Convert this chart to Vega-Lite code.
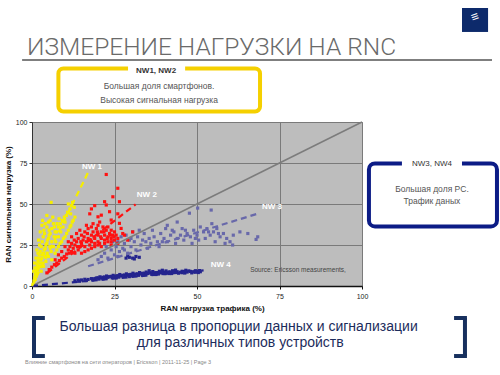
{
  "$schema": "https://vega.github.io/schema/vega-lite/v6.json",
  "width": 330,
  "height": 164,
  "autosize": {"type": "none"},
  "padding": {"left": 32, "top": 122, "right": 138, "bottom": 89},
  "background": "white",
  "config": {
    "view": {"fill": "#bdbdbd", "stroke": "#8a8a8a", "strokeWidth": 1},
    "font": "Liberation Sans"
  },
  "resolve": {"axis": {"x": "independent", "y": "independent"}},
  "data": {"values": [{}]},
  "datasets": {
    "pts": [
      {"g":"NW4","x":13,"y":3.2},{"g":"NW4","x":14,"y":3.6},{"g":"NW4","x":14.4,"y":2.9},{"g":"NW4","x":15,"y":3.7},{"g":"NW4","x":16,"y":4.1},{"g":"NW4","x":16.4,"y":3.3},{"g":"NW4","x":17,"y":4.0},{"g":"NW4","x":18,"y":4.5},{"g":"NW4","x":18.4,"y":3.7},{"g":"NW4","x":19,"y":4.5},
      {"g":"NW4","x":20,"y":5.0},{"g":"NW4","x":20.3,"y":4.2},{"g":"NW4","x":20.6,"y":5.6},{"g":"NW4","x":21,"y":4.9},{"g":"NW4","x":22,"y":5.5},{"g":"NW4","x":22.3,"y":4.6},{"g":"NW4","x":22.6,"y":6.1},{"g":"NW4","x":23,"y":5.3},{"g":"NW4","x":24,"y":5.9},{"g":"NW4","x":24.3,"y":5.0},
      {"g":"NW4","x":24.6,"y":6.5},{"g":"NW4","x":25,"y":5.7},{"g":"NW4","x":26,"y":6.3},{"g":"NW4","x":26.3,"y":5.4},{"g":"NW4","x":26.6,"y":7.0},{"g":"NW4","x":27,"y":6.1},{"g":"NW4","x":28,"y":6.7},{"g":"NW4","x":28.3,"y":5.8},{"g":"NW4","x":28.6,"y":7.4},{"g":"NW4","x":29,"y":6.5},
      {"g":"NW4","x":30,"y":7.1},{"g":"NW4","x":30.3,"y":6.2},{"g":"NW4","x":30.6,"y":7.8},{"g":"NW4","x":31,"y":6.9},{"g":"NW4","x":32,"y":7.4},{"g":"NW4","x":32.3,"y":6.5},{"g":"NW4","x":32.6,"y":8.2},{"g":"NW4","x":33,"y":7.3},{"g":"NW4","x":34,"y":7.8},{"g":"NW4","x":34.3,"y":6.9},
      {"g":"NW4","x":34.6,"y":8.5},{"g":"NW4","x":35,"y":7.6},{"g":"NW4","x":36,"y":8.0},{"g":"NW4","x":36.3,"y":7.1},{"g":"NW4","x":36.6,"y":8.8},{"g":"NW4","x":37,"y":7.8},{"g":"NW4","x":38,"y":8.2},{"g":"NW4","x":38.3,"y":7.3},{"g":"NW4","x":38.6,"y":9.0},{"g":"NW4","x":39,"y":8.0},
      {"g":"NW4","x":40,"y":8.4},{"g":"NW4","x":40.3,"y":7.5},{"g":"NW4","x":40.6,"y":9.2},{"g":"NW4","x":41,"y":8.1},{"g":"NW4","x":42,"y":8.5},{"g":"NW4","x":42.3,"y":7.6},{"g":"NW4","x":42.6,"y":9.3},{"g":"NW4","x":43,"y":8.3},{"g":"NW4","x":44,"y":8.7},{"g":"NW4","x":44.4,"y":7.8},
      {"g":"NW4","x":45,"y":8.4},{"g":"NW4","x":46,"y":8.8},{"g":"NW4","x":46.3,"y":7.9},{"g":"NW4","x":46.6,"y":9.6},{"g":"NW4","x":47,"y":8.5},{"g":"NW4","x":48,"y":8.9},{"g":"NW4","x":48.4,"y":8.0},{"g":"NW4","x":49,"y":8.6},{"g":"NW4","x":50,"y":9.0},{"g":"NW4","x":50.4,"y":8.2},
      {"g":"NW4","x":51,"y":8.7},{"g":"NW4","x":28.5,"y":17},{"g":"NW4","x":29.5,"y":17.5},{"g":"NW4","x":30.5,"y":17},{"g":"NW4","x":31.5,"y":18},{"g":"NW4","x":32.5,"y":17.5},{"g":"NW4","x":29,"y":18.5},{"g":"NW4","x":31,"y":16.5},
      {"g":"NW4","x":19.5,"y":4.9},{"g":"NW4","x":21.5,"y":5.3},{"g":"NW4","x":23.5,"y":5.7},{"g":"NW4","x":25.5,"y":6.1},{"g":"NW4","x":27.5,"y":6.5},{"g":"NW4","x":29.5,"y":6.9},{"g":"NW4","x":31.5,"y":7.3},{"g":"NW4","x":33.5,"y":7.7},{"g":"NW4","x":35.5,"y":8.0},{"g":"NW4","x":37.5,"y":8.2},
      {"g":"NW4","x":39.5,"y":8.4},{"g":"NW4","x":41.5,"y":8.6},{"g":"NW4","x":43.5,"y":8.8},{"g":"NW4","x":45.5,"y":9.0},{"g":"NW4","x":47.5,"y":9.2},{"g":"NW4","x":49.5,"y":9.3},{"g":"NW4","x":21.5,"y":4.3},{"g":"NW4","x":25.5,"y":5.0},{"g":"NW4","x":29.5,"y":5.7},{"g":"NW4","x":33.5,"y":6.5},
      {"g":"NW4","x":37.5,"y":7.0},{"g":"NW4","x":41.5,"y":7.6},{"g":"NW4","x":45.5,"y":8.1},{"g":"NW4","x":49.5,"y":8.4},{"g":"NW4","x":50.8,"y":9.4},{"g":"NW4","x":35.5,"y":9.3},{"g":"NW4","x":39.5,"y":9.6},{"g":"NW4","x":43.5,"y":9.7},
      {"g":"NW3","x":20,"y":16},{"g":"NW3","x":21,"y":18},{"g":"NW3","x":22,"y":20},{"g":"NW3","x":23,"y":17},{"g":"NW3","x":24,"y":22},{"g":"NW3","x":25,"y":19},{"g":"NW3","x":25.5,"y":24},{"g":"NW3","x":26,"y":27},{"g":"NW3","x":26.5,"y":21},{"g":"NW3","x":27,"y":30},
      {"g":"NW3","x":27.5,"y":23},{"g":"NW3","x":28,"y":26},{"g":"NW3","x":28.5,"y":31},{"g":"NW3","x":29,"y":20},{"g":"NW3","x":29.5,"y":28},{"g":"NW3","x":30,"y":24},{"g":"NW3","x":30.5,"y":33},{"g":"NW3","x":31,"y":27},{"g":"NW3","x":31.5,"y":22},{"g":"NW3","x":32,"y":30},
      {"g":"NW3","x":33,"y":25},{"g":"NW3","x":33.5,"y":28},{"g":"NW3","x":34,"y":32},{"g":"NW3","x":35,"y":23},{"g":"NW3","x":35.5,"y":29},{"g":"NW3","x":36,"y":26},{"g":"NW3","x":36.5,"y":34},{"g":"NW3","x":37,"y":30},{"g":"NW3","x":38,"y":27},{"g":"NW3","x":38.5,"y":24},
      {"g":"NW3","x":39,"y":32},{"g":"NW3","x":40,"y":29},{"g":"NW3","x":40.5,"y":35},{"g":"NW3","x":41,"y":27},{"g":"NW3","x":42,"y":31},{"g":"NW3","x":43,"y":33},{"g":"NW3","x":43.5,"y":26},{"g":"NW3","x":44,"y":29},{"g":"NW3","x":45,"y":31},{"g":"NW3","x":45.5,"y":35},
      {"g":"NW3","x":46,"y":28},{"g":"NW3","x":47,"y":32},{"g":"NW3","x":48,"y":30},{"g":"NW3","x":48.5,"y":26},{"g":"NW3","x":49,"y":34},{"g":"NW3","x":50,"y":31},{"g":"NW3","x":50.5,"y":28},{"g":"NW3","x":51,"y":36},{"g":"NW3","x":52,"y":33},{"g":"NW3","x":52.5,"y":29},
      {"g":"NW3","x":53,"y":35},{"g":"NW3","x":54,"y":31},{"g":"NW3","x":54.5,"y":38},{"g":"NW3","x":55,"y":33},{"g":"NW3","x":55.5,"y":27},{"g":"NW3","x":56,"y":35},{"g":"NW3","x":57,"y":30},{"g":"NW3","x":58,"y":32},{"g":"NW3","x":58.5,"y":26},{"g":"NW3","x":59,"y":29},
      {"g":"NW3","x":60,"y":27},{"g":"NW3","x":60.8,"y":25},{"g":"NW3","x":61,"y":31},{"g":"NW3","x":63,"y":33},{"g":"NW3","x":65.4,"y":32},{"g":"NW3","x":67.9,"y":28.4},{"g":"NW3","x":68.4,"y":30},{"g":"NW3","x":50.2,"y":47.5},{"g":"NW3","x":54.3,"y":46.3},{"g":"NW3","x":47.7,"y":44.4},
      {"g":"NW3","x":44,"y":39},{"g":"NW3","x":41,"y":37},{"g":"NW3","x":22.5,"y":24},{"g":"NW3","x":24.5,"y":27},{"g":"NW3","x":26,"y":18},{"g":"NW3","x":28,"y":22},{"g":"NW3","x":30,"y":29},{"g":"NW3","x":32.5,"y":34},{"g":"NW3","x":34.5,"y":27},{"g":"NW3","x":39.5,"y":27},
      {"g":"NW3","x":42.5,"y":34},{"g":"NW3","x":46.5,"y":34},{"g":"NW3","x":49.5,"y":29},{"g":"NW3","x":53.5,"y":33},{"g":"NW3","x":56.5,"y":32},
      {"g":"NW2","x":4.5,"y":8},{"g":"NW2","x":5.2,"y":10},{"g":"NW2","x":6,"y":11.5},{"g":"NW2","x":6.8,"y":13},{"g":"NW2","x":7.5,"y":14},{"g":"NW2","x":8.3,"y":15.5},{"g":"NW2","x":9,"y":17},{"g":"NW2","x":9.8,"y":18},{"g":"NW2","x":10.5,"y":19.5},{"g":"NW2","x":11.3,"y":20},
      {"g":"NW2","x":12,"y":21},{"g":"NW2","x":11,"y":22},{"g":"NW2","x":11.5,"y":24},{"g":"NW2","x":12,"y":26},{"g":"NW2","x":12.5,"y":23},{"g":"NW2","x":13,"y":25},{"g":"NW2","x":13.5,"y":27},{"g":"NW2","x":14,"y":22},{"g":"NW2","x":14,"y":29},{"g":"NW2","x":14.5,"y":24},
      {"g":"NW2","x":15,"y":26},{"g":"NW2","x":15,"y":31},{"g":"NW2","x":15.5,"y":28},{"g":"NW2","x":16,"y":24},{"g":"NW2","x":16,"y":33},{"g":"NW2","x":16.5,"y":27},{"g":"NW2","x":17,"y":29},{"g":"NW2","x":17,"y":35},{"g":"NW2","x":17.5,"y":25},{"g":"NW2","x":18,"y":31},
      {"g":"NW2","x":18,"y":27},{"g":"NW2","x":18.5,"y":33},{"g":"NW2","x":19,"y":29},{"g":"NW2","x":19,"y":24},{"g":"NW2","x":19.5,"y":35},{"g":"NW2","x":20,"y":27},{"g":"NW2","x":20,"y":31},{"g":"NW2","x":20.5,"y":26},{"g":"NW2","x":21,"y":33},{"g":"NW2","x":21,"y":29},
      {"g":"NW2","x":21.5,"y":36},{"g":"NW2","x":22,"y":28},{"g":"NW2","x":22,"y":31},{"g":"NW2","x":22.5,"y":34},{"g":"NW2","x":23,"y":27},{"g":"NW2","x":23,"y":30},{"g":"NW2","x":23.5,"y":32},{"g":"NW2","x":24,"y":29},{"g":"NW2","x":24,"y":34},{"g":"NW2","x":24.5,"y":31},
      {"g":"NW2","x":25,"y":28},{"g":"NW2","x":25,"y":33},{"g":"NW2","x":13,"y":20},{"g":"NW2","x":15,"y":20},{"g":"NW2","x":17,"y":22},{"g":"NW2","x":19,"y":26},{"g":"NW2","x":21,"y":24},{"g":"NW2","x":12,"y":30},{"g":"NW2","x":13.5,"y":32},{"g":"NW2","x":16.5,"y":37},
      {"g":"NW2","x":18.5,"y":38},{"g":"NW2","x":20.5,"y":39},{"g":"NW2","x":22.5,"y":68},{"g":"NW2","x":26,"y":59.6},{"g":"NW2","x":24.5,"y":54.4},{"g":"NW2","x":26.5,"y":51.4},{"g":"NW2","x":22,"y":51.4},{"g":"NW2","x":22.5,"y":49.4},{"g":"NW2","x":21,"y":43.2},{"g":"NW2","x":20,"y":42.2},
      {"g":"NW2","x":23.5,"y":45.3},{"g":"NW2","x":26.5,"y":38.2},{"g":"NW2","x":27,"y":35.1},{"g":"NW2","x":24,"y":40.2},{"g":"NW2","x":18,"y":47},{"g":"NW2","x":17.5,"y":44},{"g":"NW2","x":19,"y":49},{"g":"NW2","x":26,"y":44},{"g":"NW2","x":29,"y":28},{"g":"NW2","x":28,"y":31},
      {"g":"NW2","x":30.5,"y":33},{"g":"NW2","x":12.8,"y":28},{"g":"NW2","x":13.8,"y":24},{"g":"NW2","x":14.8,"y":27},{"g":"NW2","x":15.8,"y":30},{"g":"NW2","x":16.8,"y":32},{"g":"NW2","x":17.8,"y":28},{"g":"NW2","x":18.8,"y":30},{"g":"NW2","x":19.8,"y":33},{"g":"NW2","x":20.8,"y":30},
      {"g":"NW2","x":21.8,"y":33},{"g":"NW2","x":22.8,"y":29},{"g":"NW2","x":23.8,"y":31},{"g":"NW2","x":24.8,"y":30},{"g":"NW2","x":16,"y":21},{"g":"NW2","x":18,"y":23},{"g":"NW2","x":20,"y":25},{"g":"NW2","x":22,"y":26},{"g":"NW2","x":24,"y":27},{"g":"NW2","x":14.5,"y":34},
      {"g":"NW2","x":18,"y":36},{"g":"NW2","x":20,"y":37},{"g":"NW2","x":23,"y":36},{"g":"NW2","x":10,"y":24},{"g":"NW2","x":9,"y":21},{"g":"NW2","x":8,"y":19},{"g":"NW2","x":7,"y":16},{"g":"NW2","x":11,"y":27},{"g":"NW2","x":25.5,"y":31},{"g":"NW2","x":26,"y":29},
      {"g":"NW2","x":27.5,"y":32},{"g":"NW2","x":24,"y":25},{"g":"NW2","x":26,"y":26},
      {"g":"NW1","x":0.3,"y":1},{"g":"NW1","x":0.6,"y":3},{"g":"NW1","x":0.8,"y":5},{"g":"NW1","x":1.0,"y":7},{"g":"NW1","x":1.2,"y":9},{"g":"NW1","x":1.4,"y":11},{"g":"NW1","x":1.6,"y":13},{"g":"NW1","x":1.8,"y":15},{"g":"NW1","x":2.0,"y":17},{"g":"NW1","x":2.2,"y":19},
      {"g":"NW1","x":2.5,"y":21},{"g":"NW1","x":2.8,"y":24},{"g":"NW1","x":3.1,"y":27},{"g":"NW1","x":3.4,"y":30},{"g":"NW1","x":1.5,"y":8},{"g":"NW1","x":2.0,"y":11},{"g":"NW1","x":2.5,"y":14},{"g":"NW1","x":3.0,"y":17},{"g":"NW1","x":3.5,"y":20},{"g":"NW1","x":4.0,"y":23},
      {"g":"NW1","x":4.5,"y":26},{"g":"NW1","x":5.0,"y":29},{"g":"NW1","x":5.5,"y":32},{"g":"NW1","x":6.0,"y":35},{"g":"NW1","x":6.5,"y":38},{"g":"NW1","x":3.5,"y":12},{"g":"NW1","x":4.2,"y":15},{"g":"NW1","x":5,"y":18},{"g":"NW1","x":5.8,"y":21},{"g":"NW1","x":6.5,"y":24},
      {"g":"NW1","x":7.2,"y":27},{"g":"NW1","x":8,"y":30},{"g":"NW1","x":8.7,"y":33},{"g":"NW1","x":9.4,"y":36},{"g":"NW1","x":10,"y":39},{"g":"NW1","x":6,"y":16},{"g":"NW1","x":7,"y":20},{"g":"NW1","x":8,"y":24},{"g":"NW1","x":9,"y":27},{"g":"NW1","x":10,"y":30},
      {"g":"NW1","x":11,"y":34},{"g":"NW1","x":11.8,"y":37},{"g":"NW1","x":12.5,"y":40},{"g":"NW1","x":13,"y":42},{"g":"NW1","x":10.8,"y":45},{"g":"NW1","x":11.5,"y":47},{"g":"NW1","x":12,"y":49},{"g":"NW1","x":12.3,"y":51},{"g":"NW1","x":11,"y":50},{"g":"NW1","x":12.8,"y":48},
      {"g":"NW1","x":11.7,"y":44},{"g":"NW1","x":5.8,"y":51},{"g":"NW1","x":3.2,"y":40},{"g":"NW1","x":2.5,"y":33},{"g":"NW1","x":4.5,"y":36},{"g":"NW1","x":1.5,"y":22},{"g":"NW1","x":0.8,"y":14},{"g":"NW1","x":2,"y":28},{"g":"NW1","x":3.8,"y":32},{"g":"NW1","x":7,"y":33},
      {"g":"NW1","x":5.5,"y":40},{"g":"NW1","x":4.5,"y":43},{"g":"NW1","x":6.3,"y":42},{"g":"NW1","x":3,"y":37},
      {"g":"NW1","x":1,"y":4},{"g":"NW1","x":1.3,"y":6},{"g":"NW1","x":1.7,"y":10},{"g":"NW1","x":2.3,"y":12},{"g":"NW1","x":2.7,"y":16},{"g":"NW1","x":3.2,"y":19},{"g":"NW1","x":3.7,"y":22},{"g":"NW1","x":4.2,"y":25},{"g":"NW1","x":4.7,"y":28},{"g":"NW1","x":5.2,"y":31},
      {"g":"NW1","x":2.8,"y":9},{"g":"NW1","x":3.3,"y":14},{"g":"NW1","x":4,"y":18},{"g":"NW1","x":4.6,"y":20},{"g":"NW1","x":5.4,"y":24},{"g":"NW1","x":6,"y":27},{"g":"NW1","x":6.7,"y":30},{"g":"NW1","x":7.4,"y":33},{"g":"NW1","x":8,"y":36},{"g":"NW1","x":8.6,"y":38},
      {"g":"NW1","x":9.2,"y":40},{"g":"NW1","x":9.8,"y":42},{"g":"NW1","x":10.4,"y":43},{"g":"NW1","x":7.5,"y":22},{"g":"NW1","x":8.5,"y":26},{"g":"NW1","x":9.5,"y":29},{"g":"NW1","x":10.5,"y":32},{"g":"NW1","x":11.5,"y":36},{"g":"NW1","x":12.2,"y":39},{"g":"NW1","x":1.2,"y":17},
      {"g":"NW1","x":1.8,"y":20},{"g":"NW1","x":2.3,"y":25},{"g":"NW1","x":3.6,"y":34},{"g":"NW1","x":4,"y":38},{"g":"NW1","x":5,"y":39},{"g":"NW1","x":5.2,"y":34},{"g":"NW1","x":6.8,"y":36},{"g":"NW1","x":7.6,"y":38},{"g":"NW1","x":8.2,"y":41},{"g":"NW1","x":0.5,"y":9},
      {"g":"NW1","x":0.9,"y":11}
    ],
    "trend": [
      {"g":"NW4","x":0,"y":0,"x2":52,"y2":9.5},
      {"g":"NW3","x":17,"y":12,"x2":69,"y2":44.5},
      {"g":"NW2","x":4.6,"y":7.9,"x2":31.4,"y2":49.8},
      {"g":"NW1","x":0,"y":0,"x2":17.1,"y2":69.7}
    ]
  },
  "layer": [
    {
      "data": {"name": "pts"},
      "mark": {"type": "square", "size": 10, "opacity": 1, "filled": true},
      "encoding": {
        "x": {"field": "x", "type": "quantitative", "scale": {"domain": [0, 100], "nice": false},
          "axis": {"title": "RAN нагрузка трафика (%)", "values": [0, 25, 50, 75, 100], "grid": true, "gridColor": "#7a7a7a", "gridWidth": 1,
            "domainColor": "#111", "domainWidth": 1.5, "tickColor": "#111", "tickSize": 3, "labelFontSize": 7, "labelColor": "#222",
            "labelPadding": 3, "labelFlush": false, "titleFontSize": 8, "titleFontWeight": "bold", "titleColor": "#111", "titlePadding": 5, "titleX": 180}},
        "y": {"field": "y", "type": "quantitative", "scale": {"domain": [0, 100], "nice": false},
          "axis": {"title": "RAN сигнальная нагрузка (%)", "values": [0, 25, 50, 75, 100], "grid": true, "gridColor": "#7a7a7a", "gridWidth": 1,
            "domainColor": "#333", "domainWidth": 1, "tickColor": "#333", "tickSize": 3, "labelFontSize": 7, "labelColor": "#222",
            "labelPadding": 2, "labelFlush": false, "titleFontSize": 8, "titleFontWeight": "bold", "titleColor": "#111", "titlePadding": 3}},
        "color": {"field": "g", "type": "nominal", "legend": null,
          "scale": {"domain": ["NW1", "NW2", "NW3", "NW4"], "range": ["#f6ee00", "#ff1111", "#6868aa", "#24248e"]}}
      }
    },
    {
      "mark": {"type": "rule", "color": "#7c7c7c", "strokeWidth": 1.5},
      "encoding": {
        "x": {"datum": 0, "type": "quantitative", "axis": null},
        "y": {"datum": 0, "type": "quantitative", "axis": null},
        "x2": {"datum": 100}, "y2": {"datum": 100}
      }
    },
    {
      "data": {"name": "trend"},
      "mark": {"type": "rule", "strokeWidth": 2.2, "strokeDash": [6, 4]},
      "encoding": {
        "x": {"field": "x", "type": "quantitative", "axis": null},
        "y": {"field": "y", "type": "quantitative", "axis": null},
        "x2": {"field": "x2"}, "y2": {"field": "y2"},
        "color": {"field": "g", "type": "nominal", "legend": null}
      }
    },
    {
      "mark": {"type": "text", "text": "NW 1", "color": "white", "fontWeight": "bold", "fontSize": 8, "align": "center", "baseline": "middle"},
      "encoding": {"x": {"datum": 18.2, "type": "quantitative", "axis": null}, "y": {"datum": 72.6, "type": "quantitative", "axis": null}}
    },
    {
      "mark": {"type": "text", "text": "NW 2", "color": "white", "fontWeight": "bold", "fontSize": 8, "align": "center", "baseline": "middle"},
      "encoding": {"x": {"datum": 34.8, "type": "quantitative", "axis": null}, "y": {"datum": 55.5, "type": "quantitative", "axis": null}}
    },
    {
      "mark": {"type": "text", "text": "NW 3", "color": "white", "fontWeight": "bold", "fontSize": 8, "align": "center", "baseline": "middle"},
      "encoding": {"x": {"datum": 72.7, "type": "quantitative", "axis": null}, "y": {"datum": 48.2, "type": "quantitative", "axis": null}}
    },
    {
      "mark": {"type": "text", "text": "NW 4", "color": "white", "fontWeight": "bold", "fontSize": 8, "align": "center", "baseline": "middle"},
      "encoding": {"x": {"datum": 57.2, "type": "quantitative", "axis": null}, "y": {"datum": 12.8, "type": "quantitative", "axis": null}}
    },
    {
      "mark": {"type": "text", "text": "Source: Ericsson measurements,", "color": "#444", "fontSize": 6.5, "align": "left", "baseline": "middle"},
      "encoding": {"x": {"datum": 66.1, "type": "quantitative", "axis": null}, "y": {"datum": 9.8, "type": "quantitative", "axis": null}}
    },
    {
      "mark": {"type": "text", "text": "ИЗМЕРЕНИЕ НАГРУЗКИ НА RNC", "color": "#6a6a6a", "font": "Roboto", "fontWeight": 300, "fontSize": 24.5, "align": "left", "baseline": "alphabetic"},
      "encoding": {"x": {"datum": -1.5, "type": "quantitative", "axis": null}, "y": {"datum": 140.9, "type": "quantitative", "axis": null}}
    },
    {
      "mark": {"type": "rule", "color": "#555", "strokeWidth": 1.5},
      "encoding": {"x": {"datum": -3, "type": "quantitative", "axis": null}, "x2": {"datum": 139.4}, "y": {"datum": 137.8, "type": "quantitative", "axis": null}}
    },
    {
      "mark": {"type": "rect", "color": "#0d2a6b"},
      "encoding": {"x": {"datum": 130.3, "type": "quantitative", "axis": null}, "x2": {"datum": 138.2}, "y": {"datum": 169.5, "type": "quantitative", "axis": null}, "y2": {"datum": 154.9}}
    },
    {
      "mark": {"type": "text", "text": "≡", "color": "white", "fontWeight": "bold", "fontSize": 13, "align": "center", "baseline": "middle", "angle": -20},
      "encoding": {"x": {"datum": 134.2, "type": "quantitative", "axis": null}, "y": {"datum": 164, "type": "quantitative", "axis": null}}
    },
    {
      "mark": {"type": "rect", "fill": "white", "stroke": "#f5d000", "strokeWidth": 4, "cornerRadius": 5},
      "encoding": {"x": {"datum": 8.0, "type": "quantitative", "axis": null}, "x2": {"datum": 69.1}, "y": {"datum": 132.6, "type": "quantitative", "axis": null}, "y2": {"datum": 106.4}}
    },
    {
      "mark": {"type": "rect", "fill": "white"},
      "encoding": {"x": {"datum": 29.1, "type": "quantitative", "axis": null}, "x2": {"datum": 46.4}, "y": {"datum": 135.4, "type": "quantitative", "axis": null}, "y2": {"datum": 128.7}}
    },
    {
      "mark": {"type": "text", "text": "NW1, NW2", "color": "#333", "fontWeight": "bold", "fontSize": 8, "align": "center", "baseline": "middle"},
      "encoding": {"x": {"datum": 37.6, "type": "quantitative", "axis": null}, "y": {"datum": 131.4, "type": "quantitative", "axis": null}}
    },
    {
      "mark": {"type": "text", "text": "Большая доля смартфонов.", "color": "#555", "fontSize": 8.5, "align": "center", "baseline": "middle"},
      "encoding": {"x": {"datum": 38.5, "type": "quantitative", "axis": null}, "y": {"datum": 122.0, "type": "quantitative", "axis": null}}
    },
    {
      "mark": {"type": "text", "text": "Высокая сигнальная нагрузка", "color": "#555", "fontSize": 8.5, "align": "center", "baseline": "middle"},
      "encoding": {"x": {"datum": 38.5, "type": "quantitative", "axis": null}, "y": {"datum": 113.7, "type": "quantitative", "axis": null}}
    },
    {
      "mark": {"type": "rect", "fill": "white", "stroke": "#0c1c86", "strokeWidth": 4, "cornerRadius": 6},
      "encoding": {"x": {"datum": 102.1, "type": "quantitative", "axis": null}, "x2": {"datum": 140.9}, "y": {"datum": 74.7, "type": "quantitative", "axis": null}, "y2": {"datum": 36.3}}
    },
    {
      "mark": {"type": "rect", "fill": "white"},
      "encoding": {"x": {"datum": 112.1, "type": "quantitative", "axis": null}, "x2": {"datum": 130.3}, "y": {"datum": 78, "type": "quantitative", "axis": null}, "y2": {"datum": 71.3}}
    },
    {
      "mark": {"type": "text", "text": "NW3, NW4", "color": "#333", "fontSize": 8, "align": "center", "baseline": "middle"},
      "encoding": {"x": {"datum": 121.2, "type": "quantitative", "axis": null}, "y": {"datum": 74.4, "type": "quantitative", "axis": null}}
    },
    {
      "mark": {"type": "text", "text": "Большая доля PC.", "color": "#555", "fontSize": 8.5, "align": "center", "baseline": "middle"},
      "encoding": {"x": {"datum": 121.2, "type": "quantitative", "axis": null}, "y": {"datum": 59.1, "type": "quantitative", "axis": null}}
    },
    {
      "mark": {"type": "text", "text": "Трафик даных", "color": "#555", "fontSize": 8.5, "align": "center", "baseline": "middle"},
      "encoding": {"x": {"datum": 121.2, "type": "quantitative", "axis": null}, "y": {"datum": 51.8, "type": "quantitative", "axis": null}}
    },
    {
      "mark": {"type": "text", "text": "Большая разница в пропорции данных и сигнализации", "color": "#1c2c5c", "fontSize": 14, "align": "center", "baseline": "middle"},
      "encoding": {"x": {"datum": 62.6, "type": "quantitative", "axis": null}, "y": {"datum": -24.8, "type": "quantitative", "axis": null}}
    },
    {
      "mark": {"type": "text", "text": "для различных типов устройств", "color": "#1c2c5c", "fontSize": 14, "align": "center", "baseline": "middle"},
      "encoding": {"x": {"datum": 63.1, "type": "quantitative", "axis": null}, "y": {"datum": -34.6, "type": "quantitative", "axis": null}}
    },
    {
      "mark": {"type": "rule", "color": "#17305e", "strokeWidth": 4},
      "encoding": {"x": {"datum": 0.6, "type": "quantitative", "axis": null}, "y": {"datum": -19.5, "type": "quantitative", "axis": null}, "y2": {"datum": -42.7}}
    },
    {
      "mark": {"type": "rule", "color": "#17305e", "strokeWidth": 4},
      "encoding": {"x": {"datum": 0.0, "type": "quantitative", "axis": null}, "x2": {"datum": 3.9}, "y": {"datum": -19.5, "type": "quantitative", "axis": null}}
    },
    {
      "mark": {"type": "rule", "color": "#17305e", "strokeWidth": 4},
      "encoding": {"x": {"datum": 0.0, "type": "quantitative", "axis": null}, "x2": {"datum": 3.9}, "y": {"datum": -42.7, "type": "quantitative", "axis": null}}
    },
    {
      "mark": {"type": "rule", "color": "#17305e", "strokeWidth": 4},
      "encoding": {"x": {"datum": 131.2, "type": "quantitative", "axis": null}, "y": {"datum": -19.5, "type": "quantitative", "axis": null}, "y2": {"datum": -42.7}}
    },
    {
      "mark": {"type": "rule", "color": "#17305e", "strokeWidth": 4},
      "encoding": {"x": {"datum": 127.9, "type": "quantitative", "axis": null}, "x2": {"datum": 131.8}, "y": {"datum": -19.5, "type": "quantitative", "axis": null}}
    },
    {
      "mark": {"type": "rule", "color": "#17305e", "strokeWidth": 4},
      "encoding": {"x": {"datum": 127.9, "type": "quantitative", "axis": null}, "x2": {"datum": 131.8}, "y": {"datum": -42.7, "type": "quantitative", "axis": null}}
    },
    {
      "mark": {"type": "text", "text": "Влияние смартфонов на сети операторов  |  Ericsson  |  2011-11-25  |  Page 3", "color": "#888", "fontSize": 5.5, "align": "left", "baseline": "middle"},
      "encoding": {"x": {"datum": -2.1, "type": "quantitative", "axis": null}, "y": {"datum": -46.3, "type": "quantitative", "axis": null}}
    }
  ]
}
